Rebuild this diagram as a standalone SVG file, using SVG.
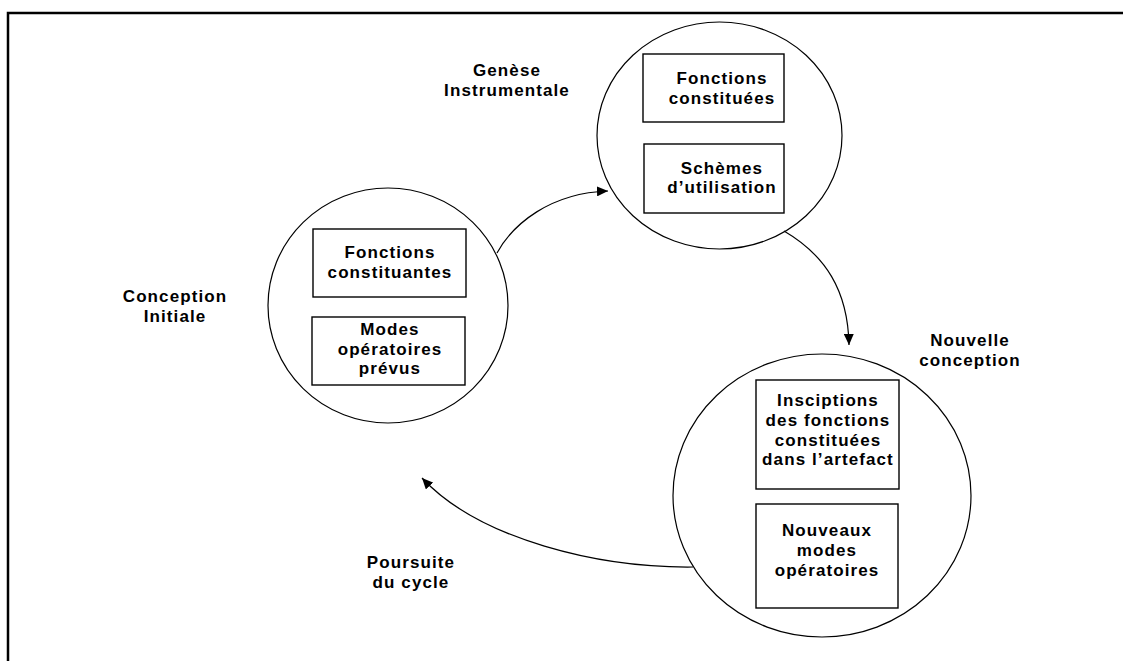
<svg xmlns="http://www.w3.org/2000/svg" width="1123" height="661" viewBox="0 0 1123 661">
<style>
.circ{fill:none;stroke:#000;stroke-width:1.2}
.box{fill:#fff;stroke:#000;stroke-width:1.4}
.t{font-family:"Liberation Sans",Arial,sans-serif;font-weight:bold;font-size:17px;letter-spacing:1.1px;fill:#000;text-anchor:middle}
.conn{fill:none;stroke:#000;stroke-width:1.2}
.frame{fill:none;stroke:#000;stroke-width:2.5}
</style>
<defs>
<marker id="arr" markerUnits="userSpaceOnUse" markerWidth="12" markerHeight="10" refX="11" refY="5" orient="auto">
<path d="M0,0 L11,5 L0,10 z" fill="#000"/>
</marker>
</defs>
<rect width="1123" height="661" fill="#fff"/>
<path class="frame" d="M8,661 L8,13 L1123,13"/>

<g id="label-conception-initiale">
<text class="t" x="175" y="302">Conception<tspan x="175" dy="20">Initiale</tspan></text>
</g>
<g id="label-genese">
<text class="t" x="507" y="76">Genèse<tspan x="507" dy="20">Instrumentale</tspan></text>
</g>
<g id="label-nouvelle">
<text class="t" x="970" y="346">Nouvelle<tspan x="970" dy="19.5">conception</tspan></text>
</g>
<g id="label-poursuite">
<text class="t" x="411" y="568">Poursuite<tspan x="411" dy="19.5">du cycle</tspan></text>
</g>

<g id="node-initiale">
<ellipse class="circ" cx="388" cy="305.5" rx="120" ry="117.5"/>
<rect class="box" x="313" y="229" width="153" height="68"/>
<text class="t" x="390" y="258">Fonctions<tspan x="390" dy="20">constituantes</tspan></text>
<rect class="box" x="312" y="317" width="153" height="68"/>
<text class="t" x="390" y="335">Modes<tspan x="390" dy="19.5">opératoires</tspan><tspan x="390" dy="19.5">prévus</tspan></text>
</g>

<g id="node-genese">
<ellipse class="circ" cx="719.5" cy="135.5" rx="122.5" ry="113.5"/>
<rect class="box" x="643" y="54" width="141" height="68"/>
<text class="t" x="722" y="84">Fonctions<tspan x="722" dy="19.5">constituées</tspan></text>
<rect class="box" x="644" y="144" width="140" height="69"/>
<text class="t" x="722" y="173.5">Schèmes<tspan x="722" dy="19.5">d’utilisation</tspan></text>
</g>

<g id="node-nouvelle">
<ellipse class="circ" cx="822" cy="495.5" rx="149" ry="141.5"/>
<rect class="box" x="756" y="380" width="143" height="109"/>
<text class="t" x="828" y="406">Insciptions<tspan x="828" dy="20">des fonctions</tspan><tspan x="828" dy="19.5">constituées</tspan><tspan x="828" dy="19.5">dans l’artefact</tspan></text>
<rect class="box" x="756" y="504" width="142" height="104"/>
<text class="t" x="827" y="536">Nouveaux<tspan x="827" dy="20">modes</tspan><tspan x="827" dy="19.5">opératoires</tspan></text>
</g>

<g id="connectors">
<path class="conn" marker-end="url(#arr)" d="M497,253 C513,224 550,193 608,191"/>
<path class="conn" marker-end="url(#arr)" d="M784,231 C825,255 848,290 849,345"/>
<path class="conn" marker-end="url(#arr)" d="M693,567 C600,568 480,540 422,478"/>
</g>
</svg>
